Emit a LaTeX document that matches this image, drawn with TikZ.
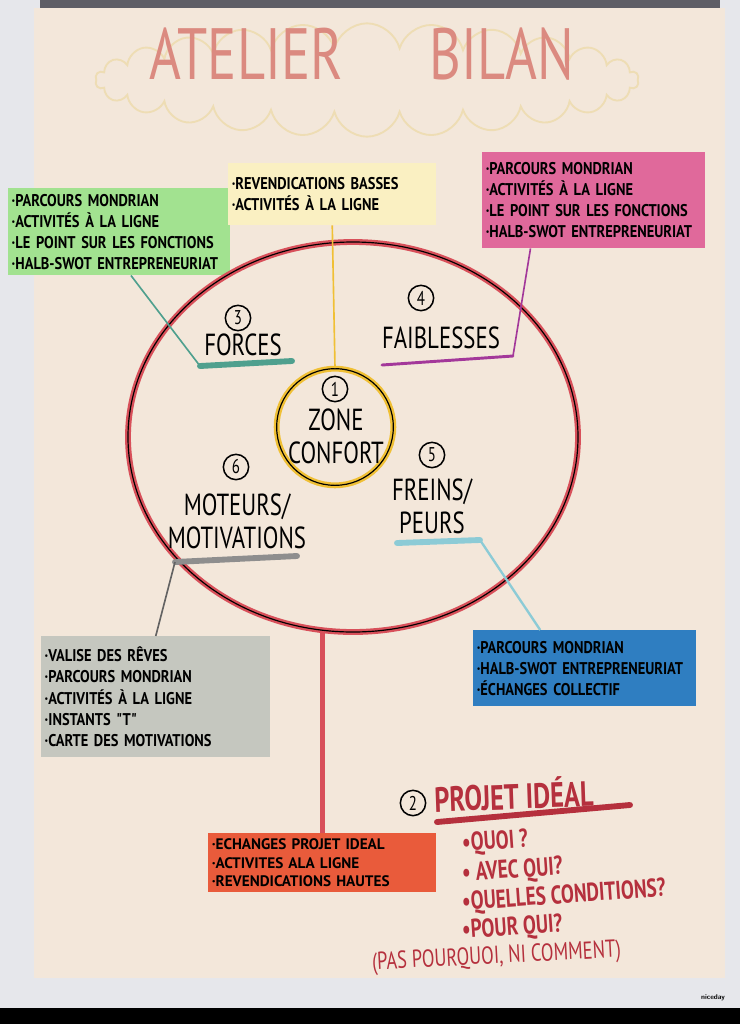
\documentclass[tikz,border=0pt]{standalone}
\usepackage{fontspec}
\newfontfamily\hand[FakeStretch=0.75]{PT Sans}
\newfontfamily\notehand[FakeStretch=0.85]{PT Sans}
\newfontfamily\plainhand{PT Sans}
\usetikzlibrary{shapes.geometric,shapes.symbols}
\definecolor{wall}{HTML}{E6E7EB}
\definecolor{bar}{HTML}{5E5E66}
\definecolor{paper}{HTML}{F3E7DA}
\definecolor{cloudc}{HTML}{EEDDB4}
\definecolor{titlec}{HTML}{DB8A80}
\definecolor{notegreen}{HTML}{A2E290}
\definecolor{noteyellow}{HTML}{FAF0C2}
\definecolor{notepink}{HTML}{E0699B}
\definecolor{notegrey}{HTML}{C5C7BF}
\definecolor{noteblue}{HTML}{2F7EC1}
\definecolor{noteorange}{HTML}{E95B3B}
\definecolor{ringred}{HTML}{D8505A}
\definecolor{zoneyel}{HTML}{F0C035}
\definecolor{linkteal}{HTML}{4FA08E}
\definecolor{linkpurple}{HTML}{A3389A}
\definecolor{linkblue}{HTML}{8CCBD6}
\definecolor{linkgrey}{HTML}{8E8E8E}
\definecolor{inkred}{HTML}{B5303D}

\begin{document}
\begin{tikzpicture}[x=0.03cm,y=-0.03cm,
	note/.style={anchor=north west,inner xsep=3pt,inner ysep=2pt,align=left,
		font=\notehand\bfseries\fontsize{14.5}{18}\selectfont},
	badge/.style={circle,draw,line width=1.3pt,inner sep=0pt,minimum size=0.76cm,
		font=\hand\fontsize{17}{17}\selectfont},
	big/.style={align=center,font=\hand\fontsize{26}{28}\selectfont},
	uline/.style={line width=5pt,line cap=round},
	link/.style={line width=1.4pt},
	ink/.style={text=inkred,anchor=west,inner sep=0pt,font=\hand\bfseries\fontsize{22}{22}\selectfont}]
	% board and paper
	\useasboundingbox (0,0) rectangle (740,1024);
	\fill[wall] (0,0) rectangle (740,1024);
	\fill[black] (0,1008) rectangle (740,1024);
	\fill[bar] (40,0) rectangle (720,9);
	\fill[paper] (34,8) rectangle (725,978);
	
	% title
	\node[cloud,cloud puffs=26,aspect=4.8,draw=cloudc,line width=1.6pt,
		minimum width=16.3cm,minimum height=3.4cm] (cloud) at (367,80) {};
	\node[text=titlec,font=\hand\fontsize{62}{62}\selectfont] (title) at (362,54)
		{ATELIER\hspace{1.2em}BILAN};
	
	% sticky notes
	\node[note,fill=notegreen,text width=6.45cm,minimum height=2.61cm] (green) at (8,188)
		{·PARCOURS MONDRIAN\\·ACTIVITÉS À LA LIGNE\\·LE POINT SUR LES FONCTIONS\\·HALB-SWOT ENTREPRENEURIAT};
	\node[note,fill=noteyellow,text width=6.03cm,minimum height=1.86cm] (yellow) at (228,163)
		{·REVENDICATIONS BASSES\\·ACTIVITÉS À LA LIGNE};
	\node[note,fill=notepink,text width=6.48cm,minimum height=2.88cm] (pink) at (482,152)
		{·PARCOURS MONDRIAN\\·ACTIVITÉS À LA LIGNE\\·LE POINT SUR LES FONCTIONS\\·HALB-SWOT ENTREPRENEURIAT};
	\node[note,fill=notegrey,text width=6.66cm,minimum height=3.63cm] (grey) at (41,636)
		{·VALISE DES RÊVES\\·PARCOURS MONDRIAN\\·ACTIVITÉS À LA LIGNE\\·INSTANTS "T"\\·CARTE DES MOTIVATIONS};
	\node[note,fill=noteblue,text width=6.48cm,minimum height=2.28cm] (blue) at (473,630)
		{·PARCOURS MONDRIAN\\·HALB-SWOT ENTREPRENEURIAT\\·ÉCHANGES COLLECTIF};
	\node[note,fill=noteorange,text width=6.63cm,minimum height=1.77cm,
		font=\plainhand\bfseries\fontsize{13}{15.5}\selectfont] (orange) at (208,833)
		{·ECHANGES PROJET IDEAL\\·ACTIVITES ALA LIGNE\\·REVENDICATIONS HAUTES};
	
	% the two rings
	\node[ellipse,draw=black,line width=1pt,preaction={draw=ringred,line width=5pt},
		minimum width=13.5cm,minimum height=11.7cm] (ring) at (353,437) {};
	\node[circle,draw=black,line width=1pt,preaction={draw=zoneyel,line width=5pt},
		minimum size=3.5cm] (zone) at (335,427) {};
	
	% labels
	\node[badge] (b1) at (335,389) {1};
	\node[big] (confort) at (336,436) {ZONE\\CONFORT};
	\node[badge] (b3) at (238,318) {3};
	\node[big] (forces) at (243,345) {FORCES};
	\node[badge] (b4) at (421,298) {4};
	\node[big] (faib) at (441,338) {FAIBLESSES};
	\node[badge] (b6) at (236,467) {6};
	\node[big] (moteurs) at (237,521) {MOTEURS/\\MOTIVATIONS};
	\node[badge] (b5) at (432,455) {5};
	\node[big] (freins) at (432,506) {FREINS/\\PEURS};
	
	% underlines
	\draw[uline,linkteal] (200,366) coordinate (forcesL) -- (292,361);
	\draw[uline,linkpurple,line width=2.5pt] (382,365) -- (513,356) coordinate (faibR);
	\draw[uline,linkgrey] (175,562) coordinate (motL) -- (297,556);
	\draw[uline,linkblue] (397,543) -- (480,540) coordinate (freinR);
	
	% connectors
	\draw[link,linkteal] ([xshift=10pt]green.south) -- (forcesL);
	\draw[link,zoneyel] (yellow.south) -- (zone.north);
	\draw[link,linkpurple] ([xshift=-54pt]pink.south) -- (faibR);
	\draw[link,linkgrey!70!black] (motL) -- (grey.north);
	\draw[link,linkblue,line width=2pt] (freinR) -- ([xshift=-38pt]blue.north);
	\draw[ringred,line width=4pt] (ring.south -| orange.north) -- (orange.north);
	
	% projet ideal
	\node[badge] (b2) at (413,803) {2};
	\node[ink,rotate=2,font=\hand\bfseries\fontsize{30}{30}\selectfont] (projet) at (434,797) {PROJET IDÉAL};
	\draw[uline,inkred] (437,822) -- (630,805);
	\node[ink,rotate=4] (quoi) at (462,845) {•QUOI ?};
	\node[ink,rotate=4] (avec) at (462,875) {• AVEC QUI?};
	\node[ink,rotate=4] (quelles) at (462,904) {•QUELLES CONDITIONS?};
	\node[ink,rotate=4] (pour) at (462,932) {•POUR QUI?};
	\node[ink,rotate=3,font=\hand\fontsize{21}{21}\selectfont] (pas) at (372,964) {(PAS POURQUOI, NI COMMENT)};
	
	\node[font=\sffamily\bfseries\fontsize{6}{6}\selectfont] (brand) at (713,998) {niceday};
\end{tikzpicture}
\end{document}
